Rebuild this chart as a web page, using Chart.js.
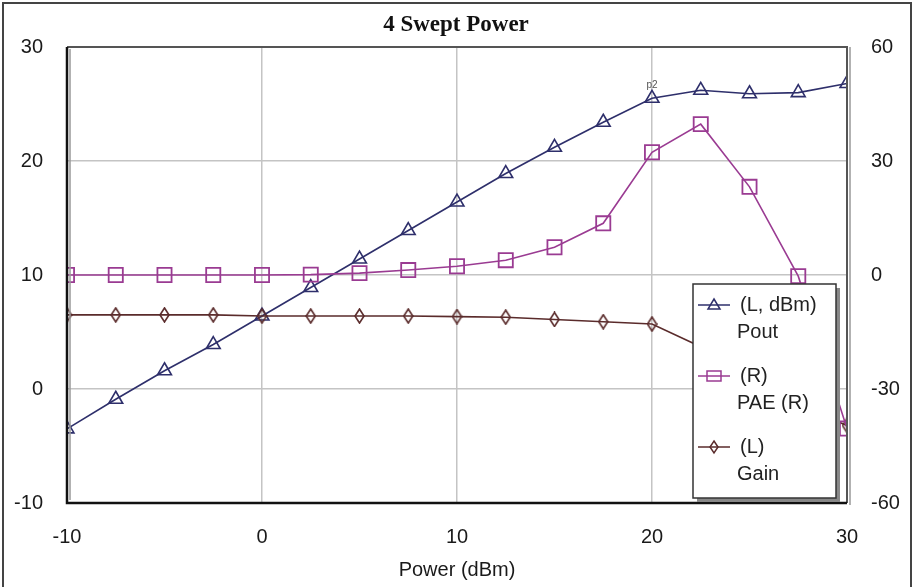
<!DOCTYPE html>
<html>
<head>
<meta charset="utf-8">
<script src="https://cdn.jsdelivr.net/npm/chart.js@4"></script>
<style>
  html, body { margin: 0; padding: 0; background: #fff; }
  #wrap { width: 918px; height: 587px; }
</style>
</head>
<body>
<div id="wrap"><canvas id="swept" width="918" height="587"></canvas></div>
<script>
// swept input power (dBm)
const powerIn = [-10, -7.5, -5, -2.5, 0, 2.5, 5, 7.5, 10, 12.5, 15, 17.5, 20, 22.5, 25, 27.5, 30]
// left axis, dBm
const pout = [-3.5, -0.9, 1.6, 3.9, 6.4, 8.9, 11.4, 13.9, 16.4, 18.9, 21.2, 23.4, 25.5, 26.2, 25.9, 26.0, 26.8]
const gain = [6.5, 6.5, 6.5, 6.5, 6.4, 6.4, 6.4, 6.4, 6.35, 6.3, 6.1, 5.9, 5.7, 3.7, 0.9, -1.5, -3.2]
// right axis, %
const pae = [0, 0, 0, 0, 0, 0.1, 0.5, 1.3, 2.3, 3.9, 7.3, 13.6, 32.3, 39.7, 23.2, -0.3, -40.4]

const leftTicks = [-10, 0, 10, 20, 30]
const rightTicks = [-60, -30, 0, 30, 60]
const xTicks = [-10, 0, 10, 20, 30]

const POUT_COL = "#2e2f6b"
const PAE_COL = "#9a3b92"
const GAIN_COL = "#5a2b2b"
const FONT = "'Liberation Sans', Arial, sans-serif"

// narrow diamond marker for Gain
const makeDiamond = (w, h, col) => {
    const c = document.createElement('canvas')
    c.width = w + 2; c.height = h + 2
    const g = c.getContext('2d')
    g.strokeStyle = col
    g.lineWidth = 1.6
    g.beginPath()
    g.moveTo(c.width / 2, 1)
    g.lineTo(c.width - 1, c.height / 2)
    g.lineTo(c.width / 2, c.height - 1)
    g.lineTo(1, c.height / 2)
    g.closePath()
    g.stroke()
    return c
}
const diamond = makeDiamond(9, 14, GAIN_COL)

const xy = (ys) => powerIn.map((x, i) => ({ x: x, y: ys[i] }))

const frame = {
    id: 'frame',
    beforeDraw(chart) {
        const c = chart.ctx
        c.save()
        c.fillStyle = "#fff"
        c.fillRect(0, 0, chart.width, chart.height)
        c.restore()
    },
    afterDraw(chart) {
        const c = chart.ctx
        const a = chart.chartArea
        c.save()
        // outer picture frame
        c.strokeStyle = "#444"
        c.lineWidth = 2
        c.beginPath()
        c.moveTo(3, 587); c.lineTo(3, 3); c.lineTo(911, 3); c.lineTo(911, 587)
        c.stroke()

        // plot border
        c.strokeStyle = "#999"
        c.lineWidth = 1.5
        c.beginPath()
        c.moveTo(a.left + 3, a.top + 2); c.lineTo(a.left + 3, a.bottom - 3)
        c.moveTo(a.right + 3, a.top); c.lineTo(a.right + 3, a.bottom + 2)
        c.stroke()
        c.strokeStyle = "#555"
        c.lineWidth = 2
        c.beginPath()
        c.moveTo(a.left, a.top); c.lineTo(a.right, a.top); c.lineTo(a.right, a.bottom)
        c.stroke()
        c.strokeStyle = "#111"
        c.lineWidth = 2.5
        c.beginPath()
        c.moveTo(a.left, a.top); c.lineTo(a.left, a.bottom); c.lineTo(a.right, a.bottom)
        c.stroke()

        // title
        c.fillStyle = "#111"
        c.font = "bold 23px 'Liberation Serif', 'Times New Roman', serif"
        c.textAlign = "center"
        c.textBaseline = "middle"
        c.fillText("4 Swept Power", 456, 25)

        // marker tag on the Pout curve
        const xs = chart.scales.x, yl = chart.scales.y
        c.font = "10px " + FONT
        c.fillStyle = "#555"
        c.fillText("p2", xs.getPixelForValue(20), yl.getPixelForValue(pout[12]) - 13)

        // legend box
        const lx = 693, ly = 284, lw = 143, lh = 214
        c.fillStyle = "#888"
        c.fillRect(lx + 4, ly + 4, lw, lh)
        c.fillStyle = "#fff"
        c.fillRect(lx, ly, lw, lh)
        c.strokeStyle = "#333"
        c.lineWidth = 1.5
        c.strokeRect(lx, ly, lw, lh)

        const items = [
            { col: POUT_COL, l1: "(L, dBm)", l2: "Pout", mark: 'tri', y: 305 },
            { col: PAE_COL, l1: "(R)", l2: "PAE (R)", mark: 'sq', y: 376 },
            { col: GAIN_COL, l1: "(L)", l2: "Gain", mark: 'dia', y: 447 }
        ]
        items.forEach(it => {
            c.strokeStyle = it.col
            c.lineWidth = 1.5
            c.beginPath()
            c.moveTo(lx + 5, it.y); c.lineTo(lx + 37, it.y)
            c.stroke()
            const mx = lx + 21
            c.beginPath()
            if (it.mark === 'tri') {
                c.moveTo(mx, it.y - 6); c.lineTo(mx + 6, it.y + 4); c.lineTo(mx - 6, it.y + 4); c.closePath()
            } else if (it.mark === 'sq') {
                c.rect(mx - 7, it.y - 5, 14, 10)
            } else {
                c.moveTo(mx, it.y - 6); c.lineTo(mx + 4, it.y); c.lineTo(mx, it.y + 6); c.lineTo(mx - 4, it.y); c.closePath()
            }
            c.stroke()
            c.fillStyle = "#222"
            c.font = "20px " + FONT
            c.textAlign = "left"
            c.textBaseline = "middle"
            c.fillText(it.l1, lx + 47, it.y)
            c.fillText(it.l2, lx + 44, it.y + 27)
        })
        c.restore()
    }
}

const ctx = document.getElementById('swept').getContext('2d')
const sweptChart = new Chart(ctx, {
    type: 'line',
    data: {
        datasets: [
            {
                label: "PAE (R)",
                data: xy(pae),
                yAxisID: 'y2',
                borderColor: PAE_COL,
                borderWidth: 1.6,
                pointStyle: 'rect',
                pointRadius: 10,
                pointBorderWidth: 1.8,
                pointBorderColor: PAE_COL,
                pointBackgroundColor: 'rgba(0,0,0,0)',
                tension: 0
            },
            {
                label: "Gain",
                data: xy(gain),
                yAxisID: 'y',
                borderColor: GAIN_COL,
                borderWidth: 1.6,
                pointStyle: diamond,
                tension: 0
            },
            {
                label: "Pout",
                data: xy(pout),
                yAxisID: 'y',
                borderColor: POUT_COL,
                borderWidth: 1.6,
                pointStyle: 'triangle',
                pointRadius: 8,
                pointBorderWidth: 1.6,
                pointBorderColor: POUT_COL,
                pointBackgroundColor: 'rgba(0,0,0,0)',
                tension: 0
            }
        ]
    },
    options: {
        responsive: false,
        animation: false,
        events: [],
        layout: { padding: { top: 47, left: 0, right: 0, bottom: 0 } },
        plugins: {
            legend: { display: false },
            title: { display: false },
            tooltip: { enabled: false }
        },
        scales: {
            x: {
                type: 'linear',
                min: -10,
                max: 30,
                afterBuildTicks: (s) => { s.ticks = xTicks.map(v => ({ value: v })) },
                afterFit: (s) => { s.height = 84 },
                grid: { color: "#c4c4c4", lineWidth: 1.5, drawTicks: false },
                border: { display: false },
                ticks: { color: "#1a1a1a", font: { family: FONT, size: 20 }, padding: 22 },
                title: {
                    display: true,
                    text: "Power (dBm)",
                    color: "#1a1a1a",
                    font: { family: FONT, size: 20 },
                    padding: { top: 0, bottom: 5 }
                }
            },
            y: {
                position: 'left',
                min: -10,
                max: 30,
                afterBuildTicks: (s) => { s.ticks = leftTicks.map(v => ({ value: v })) },
                afterFit: (s) => { s.width = 67 },
                grid: { color: "#c4c4c4", lineWidth: 1.5, drawTicks: false },
                border: { display: false },
                ticks: { color: "#1a1a1a", font: { family: FONT, size: 20 }, padding: 24 }
            },
            y2: {
                position: 'right',
                min: -60,
                max: 60,
                afterBuildTicks: (s) => { s.ticks = rightTicks.map(v => ({ value: v })) },
                afterFit: (s) => { s.width = 71 },
                grid: { display: false, drawTicks: false },
                border: { display: false },
                ticks: { color: "#1a1a1a", font: { family: FONT, size: 20 }, padding: 24 }
            }
        }
    },
    plugins: [frame]
})
</script>
</body>
</html>
